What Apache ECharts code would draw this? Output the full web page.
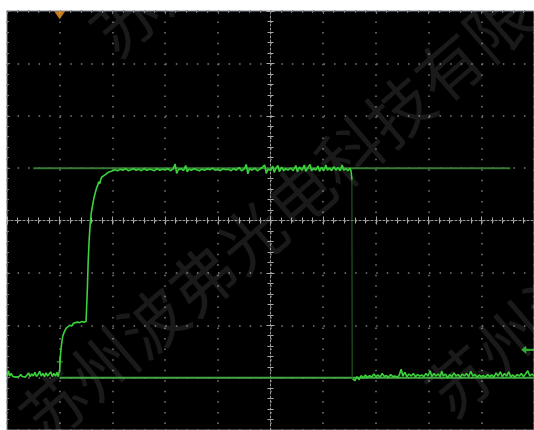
<!DOCTYPE html>
<html>
<head>
<meta charset="utf-8">
<script src="https://cdn.jsdelivr.net/npm/echarts@6/dist/echarts.min.js"></script>
<style>html,body{margin:0;padding:0;background:#fff;}#c{width:534px;height:430px;}</style>
</head>
<body>
<div id="c"></div>
<script>
// Axis ranges in screen divisions (centre = 0,0)
const xRange = [-5, 5];
const yRange = [-4, 4];

// Reference (cursor) levels
const refUpper = [[-4.5, 1.0], [4.55, 1.0]];
const refLower = [[-4.0, -3.0], [5.0, -3.0]];

// Trace: before trigger, two-step rise, high plateau
const traceHigh = [
 [-5.00,-2.98],[-4.97,-2.87],[-4.95,-2.97],[-4.92,-2.92],[-4.89,-2.98],[-4.86,-2.95],[-4.83,-2.99],[-4.80,-2.96],[-4.77,-2.98],[-4.74,-2.94],
 [-4.71,-2.98],[-4.68,-2.95],[-4.65,-2.99],[-4.62,-2.96],[-4.59,-2.91],[-4.56,-2.98],[-4.53,-2.93],[-4.50,-2.97],[-4.47,-2.90],[-4.44,-2.98],
 [-4.41,-2.94],[-4.38,-2.88],[-4.35,-2.97],[-4.32,-2.92],[-4.29,-2.98],[-4.26,-2.91],[-4.23,-2.97],[-4.20,-2.93],[-4.17,-2.89],[-4.14,-2.98],
 [-4.11,-2.92],[-4.08,-2.97],[-4.05,-2.90],[-4.03,-2.98],[-4.01,-2.99],
 [-4.00,-2.85],[-3.99,-2.62],[-3.975,-2.45],[-3.96,-2.32],[-3.94,-2.20],[-3.91,-2.12],[-3.88,-2.06],[-3.85,-2.03],[-3.81,-2.00],
 [-3.78,-1.97],[-3.76,-2.01],[-3.74,-1.96],[-3.72,-1.99],[-3.70,-1.95],[-3.68,-1.98],[-3.66,-1.94],[-3.64,-1.97],[-3.62,-1.95],[-3.60,-1.98],
 [-3.58,-1.93],[-3.56,-1.96],[-3.54,-1.94],[-3.52,-1.97],[-3.50,-1.93],[-3.485,-1.96],
 [-3.475,-1.3],[-3.46,-0.8],[-3.44,-0.35],[-3.42,-0.05],[-3.40,0.15],[-3.37,0.32],[-3.35,0.43],[-3.32,0.55],[-3.30,0.62],[-3.28,0.67],
 [-3.26,0.74],[-3.24,0.70],[-3.22,0.79],[-3.20,0.83],[-3.17,0.81],[-3.14,0.87],[-3.11,0.89],[-3.08,0.92],[-3.05,0.91],[-3.02,0.94],[-2.99,0.95],
 [-2.95,0.97],[-2.90,0.95],[-2.85,0.98],[-2.80,0.96],[-2.75,0.99],[-2.70,0.95],[-2.65,0.97],[-2.60,0.99],[-2.55,0.96],[-2.50,0.98],
 [-2.45,0.95],[-2.40,0.99],[-2.35,0.96],[-2.30,0.98],[-2.25,0.97],[-2.20,0.95],[-2.15,0.99],[-2.10,0.96],[-2.05,0.98],[-2.00,0.97],
 [-1.95,0.99],[-1.90,0.95],[-1.85,0.98],[-1.81,1.08],[-1.78,0.90],[-1.75,0.97],[-1.70,0.99],[-1.65,0.95],[-1.61,1.05],[-1.58,0.93],
 [-1.55,0.98],[-1.50,0.96],[-1.45,0.99],[-1.40,0.97],[-1.35,0.95],[-1.30,0.98],[-1.25,0.96],[-1.20,0.99],[-1.15,0.97],[-1.10,1.00],
 [-1.05,0.96],[-1.00,0.98],[-0.95,0.95],[-0.90,0.99],[-0.85,0.97],[-0.80,0.98],[-0.75,0.95],[-0.70,0.99],[-0.65,0.96],[-0.60,1.01],
 [-0.55,0.95],[-0.50,0.98],[-0.46,1.07],[-0.43,0.89],[-0.40,0.99],[-0.35,0.96],[-0.30,1.00],[-0.25,0.95],[-0.20,0.98],[-0.15,1.02],
 [-0.11,1.06],[-0.08,0.90],[-0.05,0.98],[0.00,0.96],[0.04,1.04],[0.07,0.92],[0.10,0.99],[0.14,1.05],[0.17,0.93],[0.21,1.02],
 [0.25,0.95],[0.29,0.99],[0.33,0.96],[0.38,1.00],[0.43,0.95],[0.48,1.05],[0.51,0.93],[0.55,1.02],[0.60,0.96],[0.64,1.06],
 [0.67,0.94],[0.71,1.01],[0.75,1.07],[0.78,0.95],[0.82,0.99],[0.86,0.96],[0.90,1.04],[0.93,0.94],[0.97,1.02],[1.01,0.95],
 [1.05,1.06],[1.08,0.96],[1.12,1.00],[1.16,0.95],[1.20,1.03],[1.24,0.96],[1.28,1.01],[1.32,0.95],[1.36,1.06],[1.39,0.96],
 [1.43,0.99],[1.47,0.95],[1.51,1.00],[1.53,0.93],[1.545,0.78]
];

// Fast falling edge (dim)
const fallEdge = [[1.545, 0.78], [1.55, -3.02]];

// Trace after the fall
const traceLow = [
 [1.56,-3.02],[1.60,-3.06],[1.64,-2.98],[1.68,-3.04],[1.72,-2.96],[1.76,-3.01],[1.80,-2.95],[1.84,-3.00],[1.88,-2.96],[1.92,-2.99],
 [1.96,-2.93],[2.00,-2.98],[2.04,-2.95],[2.08,-2.99],[2.12,-2.92],[2.16,-2.98],[2.20,-2.96],[2.24,-2.99],[2.28,-2.94],[2.32,-2.98],
 [2.36,-2.97],[2.40,-2.99],[2.44,-2.96],[2.48,-2.84],[2.51,-2.97],[2.55,-2.90],[2.59,-2.98],[2.63,-2.93],[2.67,-2.97],[2.71,-2.92],
 [2.75,-2.98],[2.79,-2.94],[2.83,-2.97],[2.87,-2.95],[2.91,-2.98],[2.95,-2.92],[2.99,-2.97],[3.03,-2.87],[3.06,-2.98],[3.10,-2.92],
 [3.14,-2.97],[3.18,-2.93],[3.22,-2.98],[3.25,-2.88],[3.28,-2.97],[3.32,-2.93],[3.36,-3.01],[3.40,-2.94],[3.44,-2.98],[3.48,-2.91],
 [3.52,-2.97],[3.56,-2.94],[3.60,-2.99],[3.64,-2.93],[3.68,-2.97],[3.72,-2.92],[3.76,-2.98],[3.80,-2.88],[3.84,-2.97],[3.88,-2.94],
 [3.92,-2.99],[3.96,-2.95],[4.00,-2.98],[4.04,-2.96],[4.08,-2.99],[4.12,-2.94],[4.16,-2.98],[4.20,-2.95],[4.24,-2.99],[4.28,-2.91],
 [4.32,-2.97],[4.36,-2.89],[4.40,-2.98],[4.44,-2.92],[4.48,-2.97],[4.52,-2.89],[4.56,-2.98],[4.60,-2.95],[4.64,-2.99],[4.68,-2.94],
 [4.72,-2.97],[4.76,-2.92],[4.80,-2.98],[4.84,-2.93],[4.88,-2.87],[4.92,-2.97],[4.96,-2.93],[5.00,-2.97]
];

// Markers
const triggerMarker = [[-4.0, 3.92]];
const levelArrow = [[4.88, -2.47]];
const probeMarker = [[-4.0, -2.70]];

const watermarkText = '苏州波弗光电科技有限公司';

const chart = echarts.init(document.getElementById('c'), null, {renderer: 'canvas'});

function baseAxis(extra) {
  return Object.assign({
    type: 'value', interval: 1, axisLabel: {show: false}, splitLine: {show: false}
  }, extra);
}
const dotted = {color: '#7e7e7e', width: 1.5, type: [1.5, 9.05]};
const tickStyle = {color: '#a8a8a8', width: 1};

const xr = {min: xRange[0], max: xRange[1]};
const yr = {min: yRange[0], max: yRange[1]};

const wmStyle = {text: watermarkText, fontSize: 65, fontFamily: 'Noto Sans CJK SC', fill: 'rgba(255,255,255,0.10)', textAlign: 'left', textVerticalAlign: 'middle'};

chart.setOption({
  animation: false,
  backgroundColor: '#ffffff',
  grid: {left: 7, top: 11, width: 527, height: 423, show: true, backgroundColor: '#000', borderColor: '#7d8894', borderWidth: 1, containLabel: false},
  graphic: [
    {type: 'text', x: 30, y: 428, rotation: 0.71, z: 1, silent: true, style: wmStyle},
    {type: 'text', x: 436, y: 402, rotation: 0.71, z: 1, silent: true, style: wmStyle},
    {type: 'text', x: 100, y: 42, rotation: 0.71, z: 1, silent: true, style: wmStyle}
  ],
  xAxis: [
    baseAxis(Object.assign({position: 'bottom',
      axisLine: {show: true, onZero: true, onZeroAxisIndex: 0, lineStyle: {color: '#9a9a9a', type: [2, 2]}},
      axisTick: {show: true, length: 4, lineStyle: tickStyle},
      minorTick: {show: true, splitNumber: 5, length: 3, lineStyle: tickStyle},
      splitLine: {show: true, lineStyle: dotted}}, xr)),
    baseAxis(Object.assign({position: 'top',
      axisLine: {show: false, onZero: true, onZeroAxisIndex: 0},
      axisTick: {show: true, length: 4, lineStyle: tickStyle},
      minorTick: {show: true, splitNumber: 5, length: 3, lineStyle: tickStyle}}, xr)),
    baseAxis(Object.assign({position: 'top',
      axisLine: {show: false, onZero: false},
      axisTick: {show: true, inside: true, length: 3, lineStyle: {color: '#777'}},
      minorTick: {show: true, splitNumber: 5, length: 2, lineStyle: {color: '#777'}}}, xr))
  ],
  yAxis: [
    baseAxis(Object.assign({position: 'left',
      axisLine: {show: true, onZero: true, onZeroAxisIndex: 0, lineStyle: {color: '#9a9a9a', type: [2, 2]}},
      axisTick: {show: true, length: 4, lineStyle: tickStyle},
      minorTick: {show: true, splitNumber: 5, length: 3, lineStyle: tickStyle},
      splitLine: {show: true, lineStyle: dotted}}, yr)),
    baseAxis(Object.assign({position: 'right',
      axisLine: {show: false, onZero: true, onZeroAxisIndex: 0},
      axisTick: {show: true, length: 4, lineStyle: tickStyle},
      minorTick: {show: true, splitNumber: 5, length: 3, lineStyle: tickStyle}}, yr)),
    baseAxis(Object.assign({position: 'left',
      axisLine: {show: false, onZero: false},
      axisTick: {show: true, inside: true, length: 3, lineStyle: {color: '#777'}},
      minorTick: {show: true, splitNumber: 5, length: 2, lineStyle: {color: '#777'}}}, yr))
  ],
  series: [
    {type: 'line', data: refUpper, symbol: 'none', z: 3, lineStyle: {color: '#357a35', width: 2}, silent: true},
    {type: 'line', data: refLower, symbol: 'none', z: 3, lineStyle: {color: '#43a843', width: 2}, silent: true},
    {type: 'line', data: fallEdge, symbol: 'none', z: 4, lineStyle: {color: '#256625', width: 1}, silent: true},
    {type: 'line', data: traceHigh, symbol: 'none', z: 5, lineStyle: {color: '#3bd23b', width: 1.6}, silent: true},
    {type: 'line', data: traceLow, symbol: 'none', z: 5, lineStyle: {color: '#3bd23b', width: 1.6}, silent: true},
    {type: 'scatter', data: triggerMarker, symbol: 'triangle', symbolRotate: 180, symbolSize: [11, 8], z: 6,
      itemStyle: {color: '#f39a2a'}, clip: false, silent: true},
    {type: 'scatter', data: levelArrow, symbol: 'path://M0,5 L5,0 L5,3.5 L13,3.5 L13,6.5 L5,6.5 L5,10 Z', symbolSize: [13, 8], z: 6,
      itemStyle: {color: '#3bd23b'}, clip: false, silent: true},
    {type: 'scatter', data: probeMarker, symbol: 'path://M2,0 L3,0 L3,4.5 L5,4.5 L5,5.5 L3,5.5 L3,10 L2,10 L2,5.5 L0,5.5 L0,4.5 L2,4.5 Z', symbolSize: [6, 11], z: 6,
      itemStyle: {color: '#3bd23b'}, silent: true}
  ]
});
</script>
</body>
</html>
